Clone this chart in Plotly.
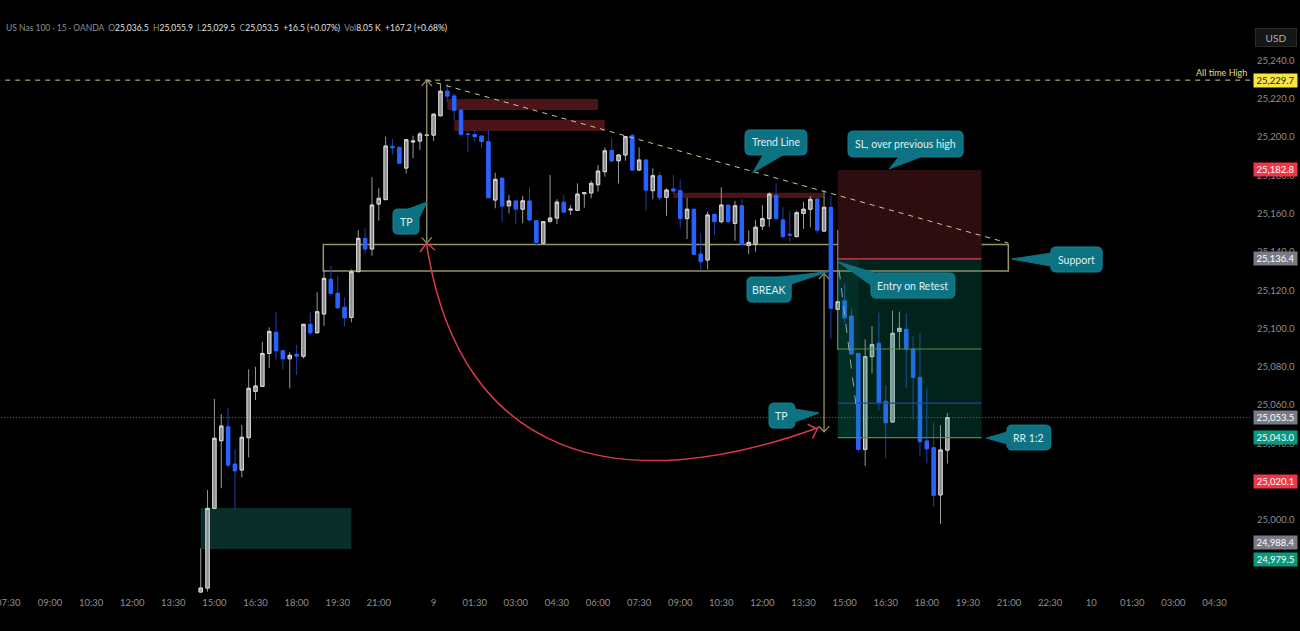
import plotly.graph_objects as go

# candles, 15 min bars
opens = [24962.4,24964.5,25006.1,25041.4,25048.7,25029.2,25026.1,25043.0,25067.2,25069.8,
         25087.0,25098.0,25088.4,25084.2,25086.5,25085.5,25102.2,25097.8,25107.6,25125.7,
         25118.4,25111.1,25105.8,25129.7,25147.1,25141.5,25165.0,25167.3,25195.1,25194.6,
         25183.8,25197.4,25197.9,25200.8,25201.0,25211.1,25224.0,25221.4,25214.1,25201.6,
         25201.3,25200.5,25197.6,25167.1,25178.5,25164.1,25166.6,25162.3,25166.6,25156.3,
         25144.5,25156.0,25157.7,25166.0,25161.9,25161.7,25170.4,25170.8,25175.1,25181.9,
         25193.0,25187.6,25190.6,25200.7,25182.8,25188.0,25172.0,25179.8,25168.5,25172.9,
         25172.0,25157.4,25162.3,25138.9,25135.8,25159.6,25155.8,25164.4,25154.9,25164.1,
         25143.4,25144.0,25153.5,25157.4,25169.6,25156.7,25149.2,25148.0,25160.1,25162.3,
         25167.6,25150.9,25163.3,25110.0,25114.5,25106.5,25087.0,25036.9,25085.3,25092.3,
         25062.0,25051.2,25098.5,25099.6,25089.3,25074.5,25041.3,25037.8,25013.1,25036.5]
highs = [24985.2,25015.7,25063.2,25055.4,25058.3,25037.0,25049.6,25078.7,25080.0,25093.1,
         25100.6,25108.8,25088.8,25087.6,25091.4,25102.4,25108.3,25118.9,25130.6,25132.8,
         25127.6,25116.3,25130.9,25151.4,25152.3,25179.0,25173.2,25200.2,25199.0,25194.6,
         25198.8,25200.7,25202.6,25202.0,25212.4,25227.5,25228.0,25222.8,25214.1,25203.0,
         25203.6,25201.0,25203.6,25181.4,25178.5,25169.7,25166.7,25169.2,25174.0,25156.7,
         25156.0,25180.2,25167.5,25169.7,25164.5,25175.8,25170.9,25177.2,25185.4,25194.6,
         25199.3,25191.0,25200.5,25201.9,25194.6,25188.0,25183.7,25181.9,25173.2,25180.2,
         25177.9,25168.3,25162.3,25149.7,25161.0,25160.1,25173.7,25165.0,25166.7,25167.6,
         25151.1,25156.7,25164.5,25171.1,25175.8,25163.3,25161.4,25161.5,25166.2,25169.2,
         25168.0,25172.0,25169.0,25151.4,25123.6,25110.5,25087.0,25094.4,25101.3,25108.3,
         25070.5,25109.3,25108.8,25108.0,25096.1,25097.5,25068.8,25050.8,25049.6,25055.9]
lows = [24962.0,24962.6,25006.0,25016.6,25027.3,25005.2,25022.3,25032.7,25062.7,25069.6,
        25079.5,25083.9,25078.7,25068.8,25075.7,25084.4,25096.6,25097.5,25101.3,25117.1,
        25110.0,25101.0,25103.3,25129.7,25138.9,25138.0,25156.3,25167.1,25191.0,25186.3,
        25181.0,25188.9,25193.2,25200.5,25198.0,25211.1,25218.4,25208.9,25200.2,25192.3,
        25197.6,25194.1,25168.0,25162.8,25155.5,25160.1,25154.7,25154.9,25155.8,25143.6,
        25144.5,25155.1,25154.6,25160.1,25159.3,25161.5,25163.1,25168.0,25171.5,25179.3,
        25187.1,25175.8,25187.6,25182.4,25182.3,25161.5,25167.5,25167.1,25158.9,25170.6,
        25152.3,25146.7,25138.4,25130.2,25130.9,25148.8,25154.9,25154.9,25145.9,25143.6,
        25138.9,25140.1,25151.4,25153.2,25156.7,25147.2,25145.3,25147.6,25152.0,25152.9,
        25149.7,25150.5,25094.4,25088.8,25103.0,25086.2,25035.7,25028.2,25076.6,25057.4,
        25032.2,25050.8,25089.1,25068.8,25052.2,25033.4,25029.6,25006.9,24997.9,25029.5]
closes = [24964.5,25006.1,25042.7,25049.1,25028.7,25025.7,25043.2,25068.8,25070.0,25087.0,
          25098.5,25088.4,25084.2,25086.0,25085.6,25102.2,25097.8,25108.8,25126.2,25118.4,
          25110.9,25105.6,25129.7,25147.1,25141.5,25164.5,25168.0,25195.3,25194.4,25186.3,
          25198.6,25197.9,25201.6,25201.0,25211.9,25223.9,25221.4,25214.0,25201.4,25201.3,
          25200.2,25197.6,25168.3,25177.9,25164.0,25166.6,25162.4,25166.7,25156.7,25145.0,
          25155.8,25157.7,25166.0,25160.8,25162.3,25170.2,25170.9,25175.8,25182.2,25192.8,
          25187.5,25190.6,25200.2,25182.8,25188.0,25172.3,25179.8,25168.3,25172.3,25171.8,
          25157.4,25162.3,25138.8,25134.9,25159.3,25155.8,25164.5,25155.8,25164.1,25144.0,
          25145.0,25152.9,25157.4,25170.2,25157.4,25148.0,25148.8,25160.5,25162.3,25167.5,
          25151.4,25163.3,25110.6,25114.0,25105.6,25086.7,25036.9,25085.3,25091.7,25061.3,
          25050.8,25097.5,25100.1,25089.3,25074.5,25040.9,25037.2,25012.9,25036.6,25053.5]
bars = list(range(len(opens)))

# axis ticks (bar index, label)
time_pos = [-22,-16,-10,-4,2,8,14,20,26,34,40,46,52,58,64,70,76,82,88,94,100,106,112,118,124,130,136,142,148]
time_lab = ["09:00","10:30","12:00","13:30","15:00","16:30","18:00","19:30","21:00","9",
            "01:30","03:00","04:30","06:00","07:30","09:00","10:30","12:00","13:30","15:00",
            "16:30","18:00","19:30","21:00","22:30","10","01:30","03:00","04:30"]
first_pos, first_lab = -28, "07:30"
price_ticks = list(range(25000, 25241, 20))

# price levels
ath = 25229.7
last = 25053.5
sl = 25182.8
entry = 25136.4
tp = 25043.0
target_1 = 25089.3
target_2 = 25061.0

# price scale tags
tag_prices = [25229.7, 25182.8, 25136.4, 25053.5, 25043.0, 25020.1, 24988.4, 24979.5]
tag_colors = ["#f5e642", "#f23645", "#787b86", "#787b86", "#089981", "#f23645", "#787b86", "#089981"]
tag_fonts = ["#222222", "#ffffff", "#ffffff", "#ffffff", "#ffffff", "#ffffff", "#ffffff", "#ffffff"]

# drawn zones: x0, x1, y0, y1
red_zones = [(36.0, 58.0, 25214.1, 25219.8), (37.0, 59.0, 25203.1, 25208.9), (69.0, 90.9, 25168.1, 25170.9)]
demand_zone = (0.0, 22.0, 24984.9, 25006.3)
support_box = (17.9, 117.9, 25130.0, 25143.9)
pos_x0, pos_x1, pos_x2 = 93.0, 96.0, 114.0

# callouts: text, box x0, x1, y0, y1, tail base and tip
call_text = ["TP", "Trend Line", "SL, over previous high", "Support", "Entry on Retest", "BREAK", "TP", "RR 1:2"]
call_box = [(28.07, 31.87, 25149.3, 25162.4), (79.46, 88.5, 25190.6, 25203.7), (94.5, 111.3, 25189.6, 25203.1),
            (124.1, 131.6, 25129.5, 25142.6), (97.85, 110.1, 25115.9, 25129.0), (79.75, 86.2, 25113.8, 25126.9),
            (82.96, 86.75, 25048.0, 25061.1), (117.7, 124.1, 25036.6, 25049.6)]
call_tail = [((30.26, 25162.4), (31.87, 25157.7), (33.04, 25166.1)),
             ((82.09, 25190.6), (85.0, 25190.6), (80.58, 25181.4)),
             ((101.9, 25189.6), (105.15, 25189.6), (100.5, 25183.3)),
             ((124.1, 25139.4), (124.1, 25132.6), (118.4, 25136.3)),
             ((98.4, 25129.0), (97.85, 25122.7), (93.0, 25134.9)),
             ((84.6, 25126.9), (86.2, 25123.2), (91.6, 25129.7)),
             ((86.75, 25058.0), (86.75, 25051.2), (90.26, 25055.9)),
             ((117.7, 25046.0), (117.7, 25039.7), (114.7, 25042.8))]

KHAKI = "#97946a"
PALE = "#cfc88e"
TEAL = "#0d7282"
RED = "#d83a4a"
FONT = "Lato"

shapes = []


def rect(x0, x1, y0, y1, fill, layer="below", line=None):
    shapes.append(dict(type="rect", x0=x0, x1=x1, y0=y0, y1=y1, fillcolor=fill, layer=layer,
                       line=dict(color=line or "rgba(0,0,0,0)", width=1.5 if line else 0)))


def seg(x0, x1, y0, y1, color, width=1, dash="solid", layer="above"):
    shapes.append(dict(type="line", x0=x0, x1=x1, y0=y0, y1=y1, layer=layer,
                       line=dict(color=color, width=width, dash=dash)))


def rounded(x0, x1, y0, y1, rx=0.75, ry=2.6):
    return (f"M {x0+rx} {y1} L {x1-rx} {y1} Q {x1} {y1} {x1} {y1-ry} L {x1} {y0+ry} Q {x1} {y0} {x1-rx} {y0} "
            f"L {x0+rx} {y0} Q {x0} {y0} {x0} {y0+ry} L {x0} {y1-ry} Q {x0} {y1} {x0+rx} {y1} Z")


for z in red_zones:
    rect(*z, "#4a1419")
rect(*demand_zone, "#0a2e2a")
rect(*support_box, "rgba(0,0,0,0)", line=KHAKI)

# long position tool
rect(pos_x0, pos_x2, entry, sl, "#2e0d10")
rect(pos_x0, pos_x2, tp, entry, "rgba(8,153,129,0.22)", layer="above")
rect(pos_x0, pos_x1, tp, entry, "rgba(8,153,129,0.10)", layer="above")
seg(pos_x0, pos_x2, entry, entry, "#d8405a", 1.3)
seg(pos_x0, pos_x2, target_1, target_1, "#4f8f45", 1.2)
seg(pos_x0, pos_x2, tp, tp, "#4f8f45", 1.2)
seg(pos_x0, pos_x2, target_2, target_2, "#24489a", 1.2)
seg(pos_x0 + 0.2, pos_x1 - 0.2, entry - 6, tp + 13, "#9aa8a4", 1, "dash")

# levels and trend line
seg(-30, 153.2, ath, ath, PALE, 1, "5px,5px", layer="below")
seg(-30, 153.2, last, last, "#6f6f6f", 1, "1px,2px", layer="below")
seg(33, 117.9, ath, 25144.6, PALE, 1, "5px,5px")

# measured moves
seg(33, 33, ath, 25144.6, KHAKI, 1.3)
seg(91, 91, 25128.8, 25046.0, KHAKI, 1.3)
for xc, yc, d in [(33, ath, -1), (33, 25144.6, 1), (91, 25128.8, -1), (91, 25046.0, 1)]:
    shapes.append(dict(type="path", layer="above", line=dict(color=KHAKI, width=1.2),
                       path=f"M {xc-0.75} {yc+3*d} L {xc} {yc} L {xc+0.75} {yc+3*d}"))

# red curved arrow
shapes.append(dict(type="path", layer="above", line=dict(color=RED, width=1.5),
                   path="M 33 25143.6 C 37.85 25031.3 61.2 25010.4 90.4 25048.6"))
shapes.append(dict(type="path", layer="above", line=dict(color=RED, width=1.5),
                   path="M 32 25140.0 L 33 25144.6 L 34.2 25141.0"))
shapes.append(dict(type="path", layer="above", line=dict(color=RED, width=1.5),
                   path="M 88.6 25050.0 L 90 25047.5 L 89.3 25042.5"))

annotations = []
for text, box, tail in zip(call_text, call_box, call_tail):
    shapes.append(dict(type="path", path=rounded(*box), fillcolor=TEAL, layer="above",
                       line=dict(color="#128494", width=1)))
    shapes.append(dict(type="path", layer="above", fillcolor=TEAL, line=dict(color=TEAL, width=1),
                       path=f"M {tail[0][0]} {tail[0][1]} L {tail[2][0]} {tail[2][1]} L {tail[1][0]} {tail[1][1]} Z"))
    annotations.append(dict(x=(box[0] + box[1]) / 2, y=(box[2] + box[3]) / 2, text=text, showarrow=False,
                            font=dict(color="#dff1f3", size=10.5, family=FONT)))

annotations.append(dict(x=153.0, y=ath, yshift=8, xanchor="right", text="All time High", showarrow=False,
                        font=dict(color="#e5dc7a", size=9, family=FONT)))

for p, c, f in zip(tag_prices, tag_colors, tag_fonts):
    annotations.append(dict(xref="paper", x=1, xanchor="left", xshift=3, y=p, text=f"{p:,.1f}", showarrow=False,
                            bgcolor=c, width=43, height=13, borderpad=0, align="center",
                            font=dict(color=f, size=9.5, family=FONT)))

gray = "#8f8f8f"
white = "#e0e0e0"
header = (f"<span style='color:{gray}'>US Nas 100 · 15 · OANDA  O</span>25,036.5 <span style='color:{gray}'> H</span>25,055.9"
          f" <span style='color:{gray}'> L</span>25,029.5 <span style='color:{gray}'> C</span>25,053.5  +16.5 (+0.07%)"
          f"  <span style='color:{gray}'>Vol</span>8.05 K  +167.2 (+0.68%)")
annotations.append(dict(xref="paper", yref="paper", x=0.0032, y=0.979, xanchor="left", yanchor="middle",
                        text=header, showarrow=False, font=dict(color=white, size=8.5, family=FONT)))
annotations.append(dict(xref="paper", x=1, xanchor="left", xshift=5, yref="paper", y=0.979, text="USD", showarrow=False,
                        bgcolor="#161616", bordercolor="#2a2a2a", width=40, height=17, borderpad=0,
                        font=dict(color="#b0b0b0", size=10, family=FONT)))
annotations.append(dict(x=first_pos, yref="paper", y=-0.0156, yanchor="middle", text=first_lab, showarrow=False,
                        font=dict(color="#8f8f8f", size=9.5, family=FONT)))

fig = go.Figure()

# wicks first, then bodies on top so they can have their own colour
fig.add_trace(go.Candlestick(x=bars, open=opens, high=highs, low=lows, close=closes, whiskerwidth=0,
                             increasing=dict(line=dict(color="#9a9a9a", width=1), fillcolor="#8c8c90"),
                             decreasing=dict(line=dict(color="#1f3fa0", width=1), fillcolor="#2962ff"),
                             hoverinfo="skip", showlegend=False))
fig.add_trace(go.Candlestick(x=bars, open=opens, close=closes,
                             high=[max(a, b) for a, b in zip(opens, closes)],
                             low=[min(a, b) for a, b in zip(opens, closes)], whiskerwidth=0,
                             increasing=dict(line=dict(color="#d8d8d8", width=1), fillcolor="#8c8c90"),
                             decreasing=dict(line=dict(color="#2962ff", width=1), fillcolor="#2962ff"),
                             hoverinfo="skip", showlegend=False))

fig.update_layout(width=1300, height=631, margin=dict(l=0, r=50, t=16, b=38),
                  paper_bgcolor="#000000", plot_bgcolor="#000000", showlegend=False,
                  shapes=shapes, annotations=annotations, font=dict(family=FONT))
fig.update_xaxes(range=[-29.3, 153.18], rangeslider_visible=False, tickmode="array", tickvals=time_pos, ticktext=time_lab,
                 showgrid=False, zeroline=False, ticks="", showline=False, tickangle=0, ticklabelstandoff=2,
                 tickfont=dict(color="#8f8f8f", size=9.5, family=FONT))
fig.update_yaxes(range=[24961.9, 25263.2], side="right", tickmode="array", tickvals=price_ticks,
                 ticktext=[f"{v:,.1f}" for v in price_ticks], showgrid=False, zeroline=False, ticks="",
                 showline=False, ticklabelstandoff=6, tickfont=dict(color="#8f8f8f", size=9.5, family=FONT))

fig.write_html("out.html", config={"displayModeBar": False},
               post_script="document.body.style.margin='0';document.body.style.background='#000';")
